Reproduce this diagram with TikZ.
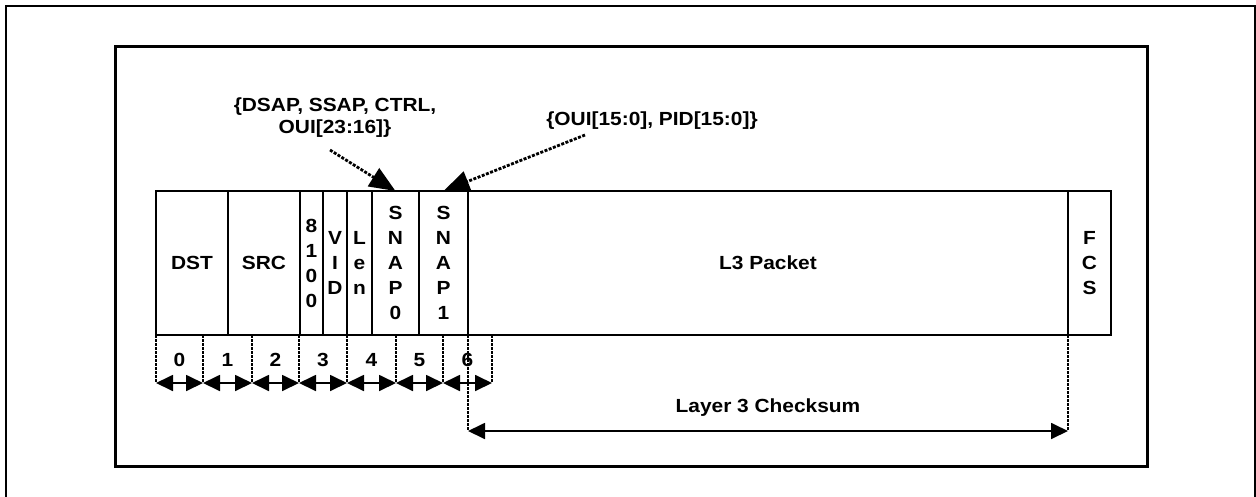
\documentclass[tikz,border=0pt]{standalone}
\usepackage{fontspec}
\setmainfont{Liberation Sans}[FakeStretch=1.1]
\usetikzlibrary{arrows.meta,positioning}

\tikzset{
	lbl/.style={font=\fontsize{19}{25}\selectfont\bfseries},
	field/.style={lbl, draw, line width=1.2pt, minimum height=144pt, inner sep=0pt, outer sep=0pt, anchor=north west, align=center},
	tick/.style={line width=2.2pt, dash pattern=on 2.5pt off 1.5pt},
	dim/.style={line width=1.8pt, {Triangle[length=17pt,width=16pt]}-{Triangle[length=17pt,width=16pt]}},
	note/.style={lbl, align=center, font=\fontsize{19}{22}\selectfont\bfseries},
	callout/.style={line width=2.8pt, dash pattern=on 3pt off 1.5pt, -{Triangle[length=26pt,width=21pt]}},
}

\begin{document}
\begin{tikzpicture}[x=1pt, y=-1pt]
		\useasboundingbox (0,0) rectangle (1256,496);
		\clip (0,0) rectangle (1256,496);
		% frames
		\draw[line width=2pt] (6,510) -- (6,6) -- (1255,6) -- (1255,510);
		\draw[line width=3pt] (115,46) rectangle (1147,466);
		% packet fields
		\node[field, minimum width=72pt] (dst) at (156,191) {DST};
		\node[field, minimum width=72pt] (src) at (dst.north east) {SRC};
		\node[field, minimum width=23pt] (tpid) at (src.north east) {8\\1\\0\\0};
		\node[field, minimum width=24pt] (vid) at (tpid.north east) {V\\I\\D};
		\node[field, minimum width=25pt] (len) at (vid.north east) {L\\e\\n};
		\node[field, minimum width=47pt] (snap0) at (len.north east) {S\\N\\A\\P\\0};
		\node[field, minimum width=49pt] (snap1) at (snap0.north east) {S\\N\\A\\P\\1};
		\node[field, minimum width=600pt] (l3) at (snap1.north east) {L3 Packet};
		\node[field, minimum width=43pt] (fcs) at (l3.north east) {F\\C\\S};
		% annotations
		\node[note] (ctl) at (335,118) {\{DSAP, SSAP, CTRL,\\OUI[23:16]\}};
		\node[note] (pid) at (652,121) {\{OUI[15:0], PID[15:0]\}};
		\coordinate (ctlfrom) at (330,150);
		\coordinate (pidfrom) at (585,135);
		\draw[callout] (ctlfrom) -- (snap0.north);
		\draw[callout] (pidfrom) -- (snap1.north);
		% byte ticks
		\coordinate (t0) at (156,335);
		\coordinate (t1) at (203,335);
		\coordinate (t2) at (252,335);
		\coordinate (t3) at (299,335);
		\coordinate (t4) at (347,335);
		\coordinate (t5) at (396,335);
		\coordinate (t6) at (443,335);
		\coordinate (t7) at (492,335);
		\coordinate (b0) at (156,383);
		\coordinate (b1) at (203,383);
		\coordinate (b2) at (252,383);
		\coordinate (b3) at (299,383);
		\coordinate (b4) at (347,383);
		\coordinate (b5) at (396,383);
		\coordinate (b6) at (443,383);
		\coordinate (b7) at (492,383);
		\draw[tick] (t0) -- (b0);
		\draw[tick] (t1) -- (b1);
		\draw[tick] (t2) -- (b2);
		\draw[tick] (t3) -- (b3);
		\draw[tick] (t4) -- (b4);
		\draw[tick] (t5) -- (b5);
		\draw[tick] (t6) -- (b6);
		\draw[tick] (t7) -- (b7);
		\draw[dim] (b0) -- node[lbl, midway, yshift=23pt] (n0) {0} (b1);
		\draw[dim] (b1) -- node[lbl, midway, yshift=23pt] (n1) {1} (b2);
		\draw[dim] (b2) -- node[lbl, midway, yshift=23pt] (n2) {2} (b3);
		\draw[dim] (b3) -- node[lbl, midway, yshift=23pt] (n3) {3} (b4);
		\draw[dim] (b4) -- node[lbl, midway, yshift=23pt] (n4) {4} (b5);
		\draw[dim] (b5) -- node[lbl, midway, yshift=23pt] (n5) {5} (b6);
		\draw[dim] (b6) -- node[lbl, midway, yshift=23pt] (n6) {6} (b7);
		% checksum span
		\coordinate (c0) at (468,431);
		\coordinate (c1) at (1068,431);
		\draw[tick] (l3.south west) -- (c0);
		\draw[tick] (l3.south east) -- (c1);
		\draw[dim] (c0) -- node[lbl, midway, yshift=23pt] (sum) {Layer 3 Checksum} (c1);
	\end{tikzpicture}
\end{document}
